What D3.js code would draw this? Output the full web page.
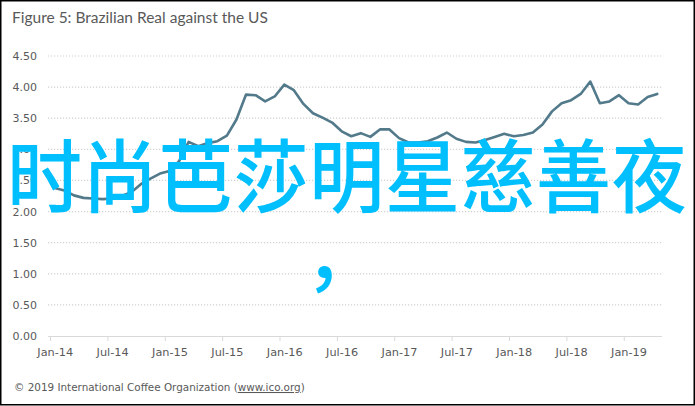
<!DOCTYPE html>
<html><head><meta charset="utf-8">
<script src="https://cdn.jsdelivr.net/npm/d3@7"></script>
<style>body{margin:0;background:#fff}svg{display:block}</style>
</head><body>
<svg id="c" width="695" height="406"></svg>
<script>
const title = "Figure 5: Brazilian Real against the US";
const footer = "© 2019 International Coffee Organization (";
const footerLink = "www.ico.org";
const overlayText = "时尚芭莎明星慈善夜";
const overlayComma = "，";
// monthly BRL per USD, Jan-14 .. Apr-19
const values2014 = [2.38, 2.34, 2.26, 2.22, 2.21, 2.20, 2.21, 2.25, 2.31, 2.44, 2.53, 2.61];
const values2015 = [2.65, 2.81, 3.12, 3.05, 3.10, 3.13, 3.22, 3.48, 3.88, 3.87, 3.77, 3.85];
const values2016 = [4.04, 3.95, 3.73, 3.58, 3.51, 3.43, 3.29, 3.21, 3.26, 3.20, 3.32, 3.32];
const values2017 = [3.18, 3.11, 3.11, 3.13, 3.19, 3.27, 3.17, 3.12, 3.11, 3.15, 3.20, 3.25];
const values2018 = [3.21, 3.23, 3.27, 3.40, 3.61, 3.74, 3.79, 3.89, 4.09, 3.74, 3.77, 3.87];
const values2019 = [3.74, 3.72, 3.84, 3.89];
const xTickLabels = ["Jan-14","Jul-14","Jan-15","Jul-15","Jan-16","Jul-16","Jan-17","Jul-17","Jan-18","Jul-18","Jan-19"];
const yTicks = [0, 0.5, 1, 1.5, 2, 2.5, 3, 3.5, 4, 4.5];

const values = [].concat(values2014, values2015, values2016, values2017, values2018, values2019);
const svg = d3.select("#c");
const grey = "#595959";

svg.append("rect").attr("x",0.75).attr("y",0.75).attr("width",693.5).attr("height",404)
  .attr("fill","#fff").attr("stroke","#000").attr("stroke-width",1.5);

const x = d3.scaleLinear().domain([0, values.length]).range([50, 662]);
const y = d3.scaleLinear().domain([0, 4.5]).range([336, 56]);

// title
const t = svg.append("text").attr("x",12).attr("y",23).attr("fill",grey)
  .style("font-family","Lato").style("font-size","15px").text(title);
const tw = t.node().getComputedTextLength();
t.style("font-size", (15*256/tw)+"px");

// gridlines
svg.append("g").selectAll("line").data(yTicks.filter(d=>d>0)).join("line")
  .attr("x1",48).attr("x2",662).attr("y1",d=>y(d)).attr("y2",d=>y(d))
  .attr("stroke","#d0d0d0").attr("stroke-width",1.2).attr("stroke-dasharray","1.2,1.8");

// y axis labels
const ya = svg.append("g").attr("transform","translate(37,0)")
  .call(d3.axisLeft(y).tickValues(yTicks).tickFormat(d3.format(".2f")).tickSize(0).tickPadding(0));
ya.select(".domain").remove();
ya.selectAll("text").attr("fill",grey).style("font-family","DejaVu Sans").style("font-size","11px");

// x axis line & ticks
const xt = svg.append("g").attr("transform","translate(0,336)")
  .call(d3.axisBottom(x).tickValues(d3.range(0, values.length, 6)).tickFormat("").tickSize(5).tickSizeOuter(0));
xt.select(".domain").attr("stroke","#d9d9d9").attr("d","M48,0.5H662");
xt.selectAll(".tick line").attr("stroke","#d9d9d9");

const xl = svg.append("g").attr("transform","translate(0,336)")
  .call(d3.axisBottom(x).tickValues(xTickLabels.map((d,i)=>i*6+0.5)).tickFormat((d,i)=>xTickLabels[i]).tickSize(0).tickPadding(12));
xl.select(".domain").remove();
xl.selectAll("text").attr("fill",grey).style("font-family","DejaVu Sans").style("font-size","11.3px");

// line
svg.append("path").datum(values)
  .attr("fill","none").attr("stroke","#527a8b").attr("stroke-width",2.6)
  .attr("stroke-linejoin","round").attr("stroke-linecap","round")
  .attr("d", d3.line().x((d,i)=>x(i+0.5)).y(d=>y(d)));

// footer
const f = svg.append("text").attr("x",14).attr("y",391).attr("fill",grey)
  .style("font-family","DejaVu Sans").style("font-size","11px");
f.append("tspan").text(footer);
f.append("tspan").style("text-decoration","underline").text(footerLink);
f.append("tspan").text(")");
const fw = f.node().getComputedTextLength();
f.style("font-size", (11*291/fw)+"px");

// overlay
svg.append("text").attr("transform","translate(7,206) scale(1,1.06)").attr("fill","#00bfff")
  .style("font-family","Noto Sans CJK SC").style("font-weight","500").style("font-size","75px")
  .style("letter-spacing","0.6px")
  .text(overlayText);
svg.append("text").attr("x",305).attr("y",284).attr("fill","#00bfff")
  .style("font-family","Noto Sans CJK SC").style("font-weight","500").style("font-size","75px")
  .text(overlayComma);
</script>
</body></html>
